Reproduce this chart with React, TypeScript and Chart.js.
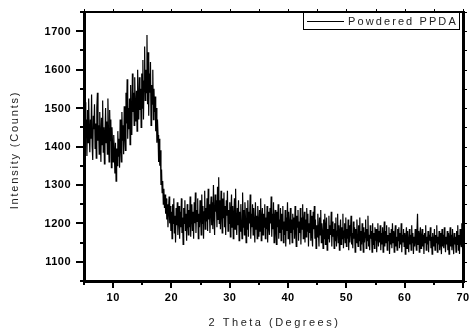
import React, { useEffect, useRef } from "react";
import { Chart, registerables } from "chart.js";

Chart.register(...registerables);

// 2θ grid of the scan (degrees)
const X_START = 5;
const X_STEP = 0.1;

// Intensity (counts), one value per 0.1° from 5° to 70°
const intensity: number[] = [
  1450, 1390, 1515, 1430, 1470, 1375, 1495, 1410, 1525, 1440,
  1385, 1470, 1420, 1535, 1400, 1365, 1480, 1445, 1510, 1395,
  1460, 1370, 1500, 1540, 1415, 1455, 1380, 1490, 1430, 1360,
  1475, 1405, 1520, 1385, 1450, 1355, 1430, 1500, 1410, 1465,
  1380, 1525, 1440, 1360, 1495, 1415, 1470, 1345, 1450, 1405,
  1360, 1430, 1385, 1330, 1410, 1310, 1395, 1350, 1440, 1375,
  1420, 1345, 1470, 1400, 1360, 1490, 1415, 1455, 1380, 1505,
  1430, 1390, 1540, 1460, 1575, 1420, 1500, 1445, 1525, 1405,
  1560, 1470, 1430, 1590, 1490, 1540, 1455, 1580, 1500, 1465,
  1545, 1440, 1600, 1510, 1470, 1580, 1495, 1550, 1450, 1590,
  1500, 1625, 1470, 1570, 1660, 1520, 1600, 1540, 1690, 1510,
  1645, 1480, 1590, 1540, 1620, 1455, 1560, 1510, 1600, 1470,
  1550, 1490, 1530, 1440, 1500, 1410, 1470, 1430, 1360, 1420,
  1350, 1390, 1300, 1340, 1280, 1310, 1250, 1290, 1240, 1275,
  1225, 1265, 1210, 1250, 1190, 1235, 1270, 1200, 1245, 1180,
  1230, 1160, 1250, 1200, 1265, 1175, 1220, 1150, 1240, 1195,
  1255, 1170, 1215, 1245, 1160, 1230, 1190, 1265, 1175, 1215,
  1145, 1240, 1200, 1260, 1180, 1225, 1155, 1250, 1205, 1170,
  1235, 1190, 1270, 1165, 1220, 1250, 1180, 1230, 1160, 1255,
  1200, 1280, 1175, 1235, 1205, 1265, 1160, 1225, 1190, 1260,
  1215, 1170, 1275, 1200, 1245, 1160, 1230, 1285, 1185, 1240,
  1205, 1265, 1180, 1290, 1210, 1250, 1175, 1235, 1270, 1195,
  1255, 1185, 1300, 1220, 1170, 1275, 1230, 1260, 1190, 1295,
  1210, 1320, 1200, 1260, 1185, 1285, 1230, 1175, 1265, 1215,
  1280, 1190, 1245, 1170, 1260, 1220, 1285, 1180, 1235, 1200,
  1255, 1165, 1230, 1275, 1190, 1245, 1160, 1220, 1265, 1185,
  1290, 1200, 1170, 1240, 1195, 1260, 1155, 1230, 1180, 1250,
  1205, 1160, 1280, 1190, 1235, 1170, 1255, 1210, 1150, 1240,
  1185, 1260, 1165, 1230, 1200, 1275, 1160, 1225, 1190, 1250,
  1170, 1240, 1195, 1150, 1255, 1185, 1220, 1160, 1245, 1200,
  1165, 1235, 1180, 1265, 1155, 1210, 1240, 1170, 1225, 1190,
  1250, 1160, 1215, 1185, 1245, 1150, 1230, 1195, 1170, 1240,
  1200, 1270, 1165, 1225, 1185, 1255, 1150, 1215, 1235, 1175,
  1145, 1230, 1190, 1250, 1160, 1210, 1175, 1240, 1155, 1225,
  1185, 1245, 1150, 1205, 1170, 1235, 1140, 1215, 1180, 1255,
  1160, 1230, 1195, 1145, 1240, 1175, 1210, 1150, 1225, 1185,
  1215, 1160, 1245, 1180, 1140, 1220, 1190, 1235, 1155, 1205,
  1175, 1240, 1145, 1215, 1185, 1250, 1160, 1200, 1230, 1150,
  1210, 1165, 1240, 1180, 1225, 1140, 1200, 1175, 1235, 1155,
  1220, 1170, 1140, 1230, 1185, 1245, 1160, 1210, 1135, 1195,
  1165, 1225, 1180, 1140, 1215, 1170, 1235, 1150, 1200, 1180,
  1135, 1210, 1160, 1225, 1145, 1190, 1215, 1130, 1185, 1160,
  1220, 1150, 1195, 1170, 1230, 1140, 1205, 1165, 1185, 1135,
  1200, 1155, 1215, 1140, 1180, 1225, 1150, 1195, 1130, 1175,
  1210, 1145, 1190, 1160, 1225, 1135, 1180, 1200, 1150, 1215,
  1140, 1185, 1160, 1210, 1130, 1195, 1150, 1180, 1220, 1145,
  1175, 1135, 1205, 1160, 1190, 1125, 1185, 1150, 1210, 1165,
  1140, 1195, 1155, 1215, 1130, 1180, 1145, 1200, 1160, 1125,
  1190, 1150, 1175, 1210, 1135, 1185, 1155, 1220, 1140, 1170,
  1130, 1195, 1160, 1180, 1125, 1200, 1145, 1175, 1135, 1190,
  1155, 1185, 1125, 1170, 1200, 1140, 1180, 1150, 1195, 1130,
  1175, 1145, 1190, 1125, 1165, 1205, 1140, 1180, 1150, 1195,
  1130, 1170, 1155, 1190, 1120, 1175, 1145, 1185, 1135, 1200,
  1150, 1180, 1125, 1170, 1195, 1140, 1165, 1130, 1185, 1155,
  1190, 1135, 1175, 1145, 1200, 1125, 1170, 1150, 1185, 1140,
  1175, 1120, 1165, 1190, 1135, 1180, 1150, 1125, 1185, 1145,
  1170, 1130, 1195, 1150, 1175, 1120, 1165, 1140, 1185, 1155,
  1130, 1175, 1225, 1145, 1180, 1125, 1170, 1190, 1135, 1160,
  1185, 1140, 1170, 1120, 1175, 1150, 1195, 1130, 1165, 1145,
  1180, 1125, 1170, 1155, 1190, 1135, 1165, 1120, 1175, 1150,
  1140, 1185, 1130, 1170, 1150, 1195, 1125, 1165, 1145, 1180,
  1130, 1175, 1150, 1120, 1185, 1140, 1170, 1135, 1190, 1155,
  1125, 1165, 1145, 1180, 1130, 1175, 1120, 1160, 1190, 1140,
  1170, 1130, 1185, 1150, 1120, 1175, 1145, 1165, 1125, 1180,
  1145, 1195, 1130, 1170, 1120, 1185, 1150, 1140, 1200, 1135,
  1165,
];

const xMajorTicks = [10, 20, 30, 40, 50, 60, 70];
const xMinorTicks = [5, 15, 25, 35, 45, 55, 65];
const yMajorTicks = [1100, 1200, 1300, 1400, 1500, 1600, 1700];
const yMinorTicks = [1050, 1150, 1250, 1350, 1450, 1550, 1650, 1750];

const X_MIN = 5;
const X_MAX = 70;
const Y_MIN = 1050;
const Y_MAX = 1750;

const seriesLabel = "Powdered PPDA";
const xTitle = "2 Theta (Degrees)";
const yTitle = "Intensity (Counts)";

const framePlugin = {
  id: "originFrame",
  afterDraw(chart: any) {
    const { ctx, chartArea: a, scales } = chart;
    const sx = scales.x;
    const sy = scales.y;
    ctx.save();
    ctx.fillStyle = "#000";
    const L = Math.round(a.left);
    const R = Math.round(a.right);
    const T = Math.round(a.top);
    const B = Math.round(a.bottom);
    ctx.fillRect(L - 1, T - 1, 3, B - T + 3); // left
    ctx.fillRect(L - 1, B - 1, R - L + 3, 3); // bottom
    ctx.fillRect(R - 1, T - 1, 3, B - T + 3); // right
    ctx.fillRect(L - 1, T - 1, R - L + 3, 2); // top

    for (const v of xMajorTicks) {
      const px = Math.round(sx.getPixelForValue(v));
      ctx.fillRect(px - 1, B, 2, 7);
      ctx.fillRect(px, T - 3, 1, 2);
    }
    for (const v of xMinorTicks) {
      const px = Math.round(sx.getPixelForValue(v));
      ctx.fillRect(px - 1, B, 2, 4);
      ctx.fillRect(px, T - 3, 1, 2);
    }
    for (const v of yMajorTicks) {
      const py = Math.round(sy.getPixelForValue(v));
      ctx.fillRect(L - 8, py - 1, 8, 2);
      ctx.fillRect(R + 2, py, 2, 1);
    }
    for (const v of yMinorTicks) {
      const py = Math.round(sy.getPixelForValue(v));
      ctx.fillRect(L - 4, py - 1, 4, 2);
      ctx.fillRect(R + 2, py, 2, 1);
    }

    ctx.font = 'bold 11px "Liberation Sans", Arial, sans-serif';
    (ctx as any).letterSpacing = "0.5px";
    ctx.fillStyle = "#000";
    ctx.textAlign = "right";
    ctx.textBaseline = "middle";
    for (const v of yMajorTicks) {
      ctx.fillText(String(v), L - 13, sy.getPixelForValue(v) + 0.5);
    }
    ctx.textAlign = "center";
    for (const v of xMajorTicks) {
      ctx.fillText(String(v), sx.getPixelForValue(v), B + 17);
    }

    ctx.fillStyle = "#222";
    ctx.font = '11px "Liberation Sans", Arial, sans-serif';
    (ctx as any).letterSpacing = "2.5px";
    ctx.textAlign = "center";
    ctx.textBaseline = "middle";
    ctx.fillText(xTitle, (a.left + a.right) / 2 + 1, 323);
    ctx.save();
    ctx.translate(15, 150);
    ctx.rotate(-Math.PI / 2);
    (ctx as any).letterSpacing = "1.8px";
    ctx.fillText(yTitle, 0, 0);
    ctx.restore();

    ctx.strokeStyle = "#000";
    ctx.lineWidth = 1;
    ctx.strokeRect(303.5, 12.5, 156, 17);
    ctx.beginPath();
    ctx.moveTo(307, 21.5);
    ctx.lineTo(344, 21.5);
    ctx.stroke();
    ctx.fillStyle = "#222";
    ctx.textAlign = "left";
    (ctx as any).letterSpacing = "2.1px";
    ctx.fillText(seriesLabel, 348, 21.5);
    ctx.restore();
  },
};

export default function App() {
  const ref = useRef<HTMLCanvasElement | null>(null);
  useEffect(() => {
    if (!ref.current) return;
    const points = intensity.map((y, i) => ({
      x: +(X_START + i * X_STEP).toFixed(2),
      y,
    }));
    const chart = new Chart(ref.current, {
      type: "line",
      data: {
        datasets: [
          {
            label: seriesLabel,
            data: points,
            borderColor: "#000",
            borderWidth: 1.2,
            pointRadius: 0,
            fill: false,
            tension: 0,
          },
        ],
      },
      options: {
        responsive: false,
        animation: false,
        devicePixelRatio: 1,
        layout: { padding: { top: 12, right: 6, left: 0, bottom: 0 } },
        plugins: {
          legend: { display: false },
          tooltip: { enabled: false },
          title: { display: false },
        },
        scales: {
          x: {
            type: "linear",
            min: X_MIN,
            max: X_MAX,
            ticks: { display: false },
            grid: { display: false },
            border: { display: false },
            afterFit: (s: any) => {
              s.height = 48;
            },
          },
          y: {
            type: "linear",
            min: Y_MIN,
            max: Y_MAX,
            ticks: { display: false },
            grid: { display: false },
            border: { display: false },
            afterFit: (s: any) => {
              s.width = 84;
            },
          },
        },
      },
      plugins: [framePlugin],
    });
    return () => chart.destroy();
  }, []);
  return (
    <div style={{ position: "fixed", left: 0, top: 0, width: 469, height: 329, background: "#fff" }}>
      <canvas ref={ref} width={469} height={329} style={{ display: "block" }} />
    </div>
  );
}
